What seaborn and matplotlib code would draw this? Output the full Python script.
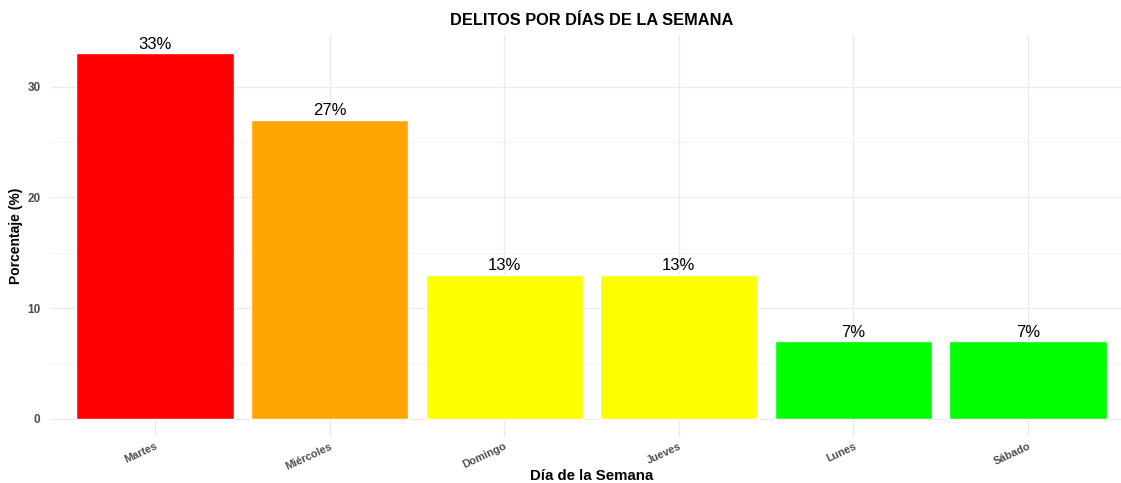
import numpy as np
import pandas as pd
import matplotlib
matplotlib.use('Agg')
import matplotlib.pyplot as plt
import seaborn as sns

# data
dias = ['Martes', 'Miércoles', 'Domingo', 'Jueves', 'Lunes', 'Sábado']
porcentaje = [33, 27, 13, 13, 7, 7]
colores = ['#FF0000', '#FFA500', '#FFFF00', '#FFFF00', '#00FF00', '#00FF00']

df = pd.DataFrame({'dia': dias, 'pct': porcentaje})

sns.set_style('white')
plt.rcParams['font.family'] = ['Liberation Sans', 'DejaVu Sans']

fig = plt.figure(figsize=(11.21, 4.83), dpi=100)
ax = fig.add_axes([0.0448, 0.0952, 0.9657, 0.8323])

sns.barplot(data=df, x='dia', y='pct', hue='dia', order=dias,
            palette=dict(zip(dias, colores)), legend=False,
            width=0.9, saturation=1, ax=ax)

# labels above bars
for i, v in enumerate(porcentaje):
    ax.text(i, v + 0.15, f'{v}%', ha='center', va='bottom', fontsize=12, color='black')

ax.set_xlim(-0.6, len(dias) - 0.4)
ax.set_ylim(-1.65, 34.65)
ax.set_yticks([0, 10, 20, 30])
ax.set_yticks([5, 15, 25], minor=True)

# ggplot-like minimal grid
ax.grid(True, which='major', color='#ebebeb', linewidth=0.9)
ax.grid(True, which='minor', axis='y', color='#f2f2f2', linewidth=0.6)
ax.set_axisbelow(True)
for s in ax.spines.values():
    s.set_visible(False)
ax.tick_params(axis='both', which='both', length=0)
ax.tick_params(axis='y', pad=7)
ax.tick_params(axis='x', pad=3)

for lab in ax.get_yticklabels():
    lab.set_fontsize(8.5)
    lab.set_fontweight('bold')
    lab.set_color('#4d4d4d')
ax.set_xticks(range(len(dias)))
ax.set_xticklabels(dias, rotation=25, ha='right', rotation_mode='anchor',
                   fontsize=7.8, fontweight='bold', color='#4d4d4d')

ax.set_title('DELITOS POR DÍAS DE LA SEMANA', fontsize=11.8, fontweight='bold',
             color='black', pad=7)
ax.set_xlabel('Día de la Semana', fontsize=10.8, fontweight='bold', color='black', labelpad=-2)
ax.set_ylabel('Porcentaje (%)', fontsize=10, fontweight='bold', color='black', labelpad=3)

fig.savefig('out.png', dpi=100)
